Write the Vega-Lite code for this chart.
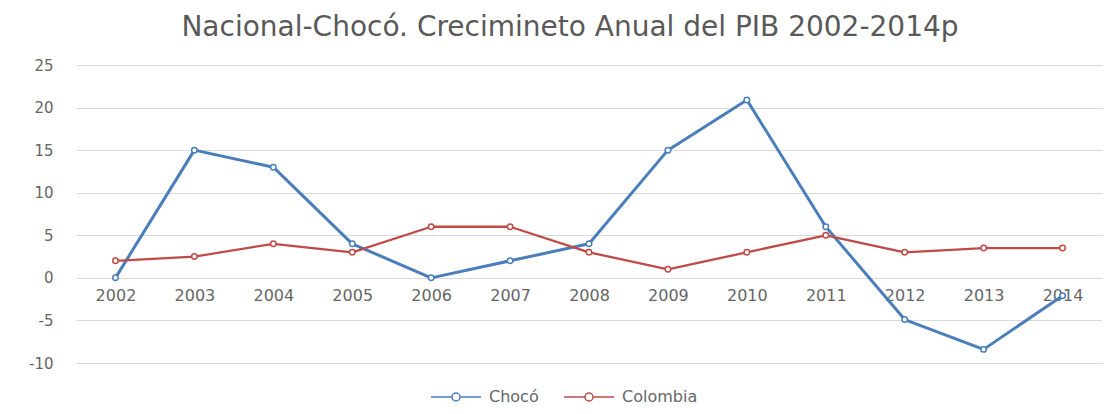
{
  "$schema": "https://vega.github.io/schema/vega-lite/v6.json",
  "autosize": "none",
  "width": 1026,
  "height": 298,
  "padding": {"left": 76, "top": 65, "right": 17, "bottom": 51},
  "background": "white",
  "config": {
    "view": {"stroke": null},
    "font": "DejaVu Sans",
    "axis": {"labelColor": "#666666", "labelFont": "DejaVu Sans", "domain": false, "ticks": false, "title": null}
  },
  "title": {
    "text": "Nacional-Chocó.  Crecimineto Anual del PIB 2002-2014p",
    "font": "DejaVu Sans",
    "fontSize": 28,
    "fontWeight": "normal",
    "color": "#595959",
    "anchor": "middle",
    "dx": -19,
    "offset": 16
  },
  "data": {
    "values": [
      {"year": "2002", "serie": "Chocó", "value": 0},
      {"year": "2003", "serie": "Chocó", "value": 15},
      {"year": "2004", "serie": "Chocó", "value": 13},
      {"year": "2005", "serie": "Chocó", "value": 4},
      {"year": "2006", "serie": "Chocó", "value": 0},
      {"year": "2007", "serie": "Chocó", "value": 2},
      {"year": "2008", "serie": "Chocó", "value": 4},
      {"year": "2009", "serie": "Chocó", "value": 15},
      {"year": "2010", "serie": "Chocó", "value": 20.9},
      {"year": "2011", "serie": "Chocó", "value": 6},
      {"year": "2012", "serie": "Chocó", "value": -4.9},
      {"year": "2013", "serie": "Chocó", "value": -8.4},
      {"year": "2014", "serie": "Chocó", "value": -2.1},
      {"year": "2002", "serie": "Colombia", "value": 2},
      {"year": "2003", "serie": "Colombia", "value": 2.5},
      {"year": "2004", "serie": "Colombia", "value": 4},
      {"year": "2005", "serie": "Colombia", "value": 3},
      {"year": "2006", "serie": "Colombia", "value": 6},
      {"year": "2007", "serie": "Colombia", "value": 6},
      {"year": "2008", "serie": "Colombia", "value": 3},
      {"year": "2009", "serie": "Colombia", "value": 1},
      {"year": "2010", "serie": "Colombia", "value": 3},
      {"year": "2011", "serie": "Colombia", "value": 5},
      {"year": "2012", "serie": "Colombia", "value": 3},
      {"year": "2013", "serie": "Colombia", "value": 3.5},
      {"year": "2014", "serie": "Colombia", "value": 3.5}
    ]
  },
  "encoding": {
    "x": {
      "field": "year",
      "type": "ordinal",
      "scale": {"type": "point", "padding": 0.5},
      "axis": {"labelAngle": 0, "offset": -85.1, "labelPadding": 10, "labelFontSize": 16, "grid": false}
    },
    "y": {
      "field": "value",
      "type": "quantitative",
      "scale": {"domain": [-10, 25], "nice": false, "zero": false},
      "axis": {"values": [-10, -5, 0, 5, 10, 15, 20, 25], "labelExpr": "toString(datum.value)", "labelPadding": 23, "labelFontSize": 15, "grid": true, "gridColor": "#D9D9D9", "gridWidth": 1}
    },
    "color": {
      "field": "serie",
      "type": "nominal",
      "scale": {"domain": ["Chocó", "Colombia"], "range": ["#4A7EBB", "#BE4B48"]},
      "legend": {
        "title": null,
        "orient": "none",
        "direction": "horizontal",
        "legendX": 354,
        "legendY": 306,
        "padding": 0,
        "symbolType": "M-1,0H-0.16M0.16,0H1M-0.16,0A0.16,0.16 0 1,0 0.16,0A0.16,0.16 0 1,0 -0.16,0Z",
        "symbolSize": 2500,
        "symbolStrokeWidth": 1.5,
        "symbolFillColor": "white",
        "labelFontSize": 16,
        "labelColor": "#666666",
        "labelOffset": 7,
        "columnPadding": 22
      }
    }
  },
  "layer": [
    {
      "mark": {"type": "line", "strokeCap": "round", "strokeJoin": "round"},
      "encoding": {
        "strokeWidth": {"condition": {"test": "datum.serie === 'Chocó'", "value": 3}, "value": 2.3}
      }
    },
    {
      "mark": {"type": "point", "filled": false, "fill": "#ffffff", "fillOpacity": 1, "size": 30, "strokeWidth": 1.5, "opacity": 1}
    }
  ]
}
